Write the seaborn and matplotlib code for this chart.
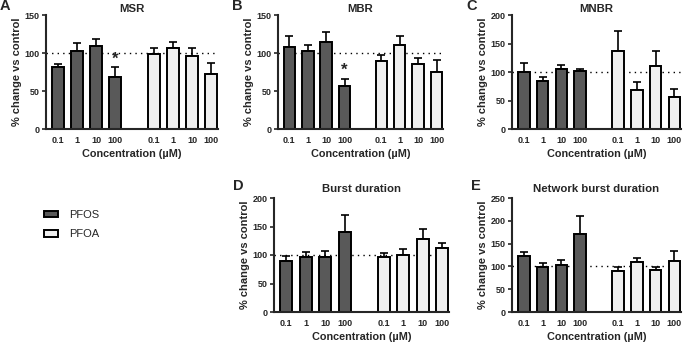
import numpy as np
import pandas as pd
import seaborn as sns
import matplotlib.pyplot as plt
from matplotlib.patches import Patch

# Concentrations and compounds
concs = ['0.1', '1', '10', '100']
compounds = ['PFOS', 'PFOA']
positions = [0, 1, 2, 3, 5, 6, 7, 8]

# Mean % change vs control (PFOS 0.1..100, then PFOA 0.1..100)
msr_mean = [82, 103, 109, 68, 99, 106, 96, 73]
msr_sem = [4, 10, 10, 13, 8, 8, 11, 14]
mbr_mean = [108, 102, 114, 57, 89, 110, 86, 75]
mbr_sem = [15, 9, 14, 9, 8, 12, 8, 16]
mnbr_mean = [100, 85, 105, 101, 136, 69, 111, 56]
mnbr_sem = [15, 7, 8, 4, 36, 14, 25, 15]
bd_mean = [90, 97, 96, 141, 96, 100, 128, 112]
bd_sem = [9, 8, 11, 29, 8, 10, 18, 9]
nbd_mean = [122, 98, 102, 172, 90, 109, 92, 112]
nbd_sem = [9, 9, 11, 38, 8, 9, 7, 21]

panels = [
    ('A', 'MSR', msr_mean, msr_sem, 150, [3], (46, 218, 15, 129)),
    ('B', 'MBR', mbr_mean, mbr_sem, 150, [3], (278, 443, 15, 129)),
    ('C', 'MNBR', mnbr_mean, mnbr_sem, 200, [], (512, 681, 15, 129)),
    ('D', 'Burst duration', bd_mean, bd_sem, 200, [], (274, 449, 198, 312)),
    ('E', 'Network burst duration', nbd_mean, nbd_sem, 250, [], (512, 681, 198, 312)),
]

palette = {'PFOS': '#595959', 'PFOA': '#efefef'}

sns.set_style('ticks')
plt.rcParams['font.family'] = ['Liberation Sans', 'DejaVu Sans']
plt.rcParams['axes.linewidth'] = 1.5

W, H = 685, 342
fig = plt.figure(figsize=(W / 100, H / 100), dpi=100)

for letter, title, mean, sem, ymax, stars, (x0, x1, y0, y1) in panels:
    ax = fig.add_axes([x0 / W, 1 - y1 / H, (x1 - x0) / W, (y1 - y0) / H])
    df = pd.DataFrame({
        'pos': positions,
        'value': mean,
        'sem': sem,
        'compound': [c for c in compounds for _ in concs],
    })
    ax.axhline(100, color='black', lw=1, ls=(0, (1, 3)), zorder=0)
    sns.barplot(data=df, x='pos', y='value', hue='compound', palette=palette,
                native_scale=True, dodge=False, width=0.62, errorbar=None,
                edgecolor='black', linewidth=1.4, legend=False, ax=ax, zorder=2)
    ax.errorbar(df['pos'], df['value'], yerr=[np.zeros(len(df)), df['sem']],
                fmt='none', ecolor='black', elinewidth=1.2, capsize=3.2,
                capthick=1.2, zorder=1)
    for i in stars:
        ax.text(df['pos'][i], df['value'][i] + df['sem'][i] + 1, '*',
                ha='center', va='bottom', fontsize=12, fontweight='bold')
    ax.set_xlim(-0.62, 8.35)
    ax.set_ylim(0, ymax)
    ax.set_yticks(np.arange(0, ymax + 1, 50))
    ax.set_xticks(positions)
    ax.set_xticklabels(concs * 2)
    ax.tick_params(axis='x', length=0, pad=5, labelsize=6.5)
    ax.tick_params(axis='y', length=3, width=1.2, pad=1.5, labelsize=6.5)
    for lab in ax.get_xticklabels() + ax.get_yticklabels():
        lab.set_fontweight('bold')
    sns.despine(ax=ax)
    ax.set_xlabel('Concentration (µM)', fontsize=7.8, fontweight='bold', labelpad=3)
    ax.set_ylabel('% change vs control', fontsize=8, fontweight='bold', labelpad=2)
    if letter in 'ABC':
        ax.set_title(title, fontsize=8.2, fontweight='bold', pad=2.5)
        fig.text(x0 / W - 0.067, 1 - 6.5 / H, letter, fontsize=10.5,
                 fontweight='bold', va='center', ha='left')
    else:
        ax.set_title(title, fontsize=8.2, fontweight='bold', pad=4)
        fig.text(x0 / W - 0.06, 1 - (y0 - 11.5) / H, letter, fontsize=10.5,
                 fontweight='bold', va='center', ha='left')

handles = [Patch(facecolor=palette[c], edgecolor='black', linewidth=1.4) for c in compounds]
fig.legend(handles, compounds, loc='upper left', bbox_to_anchor=(44 / W, 1 - 210 / H),
           frameon=False, fontsize=8, handlelength=1.3, handleheight=0.55,
           handletextpad=1.0, labelspacing=0.85, borderpad=0, borderaxespad=0)

fig.savefig('out.png', dpi=100)
